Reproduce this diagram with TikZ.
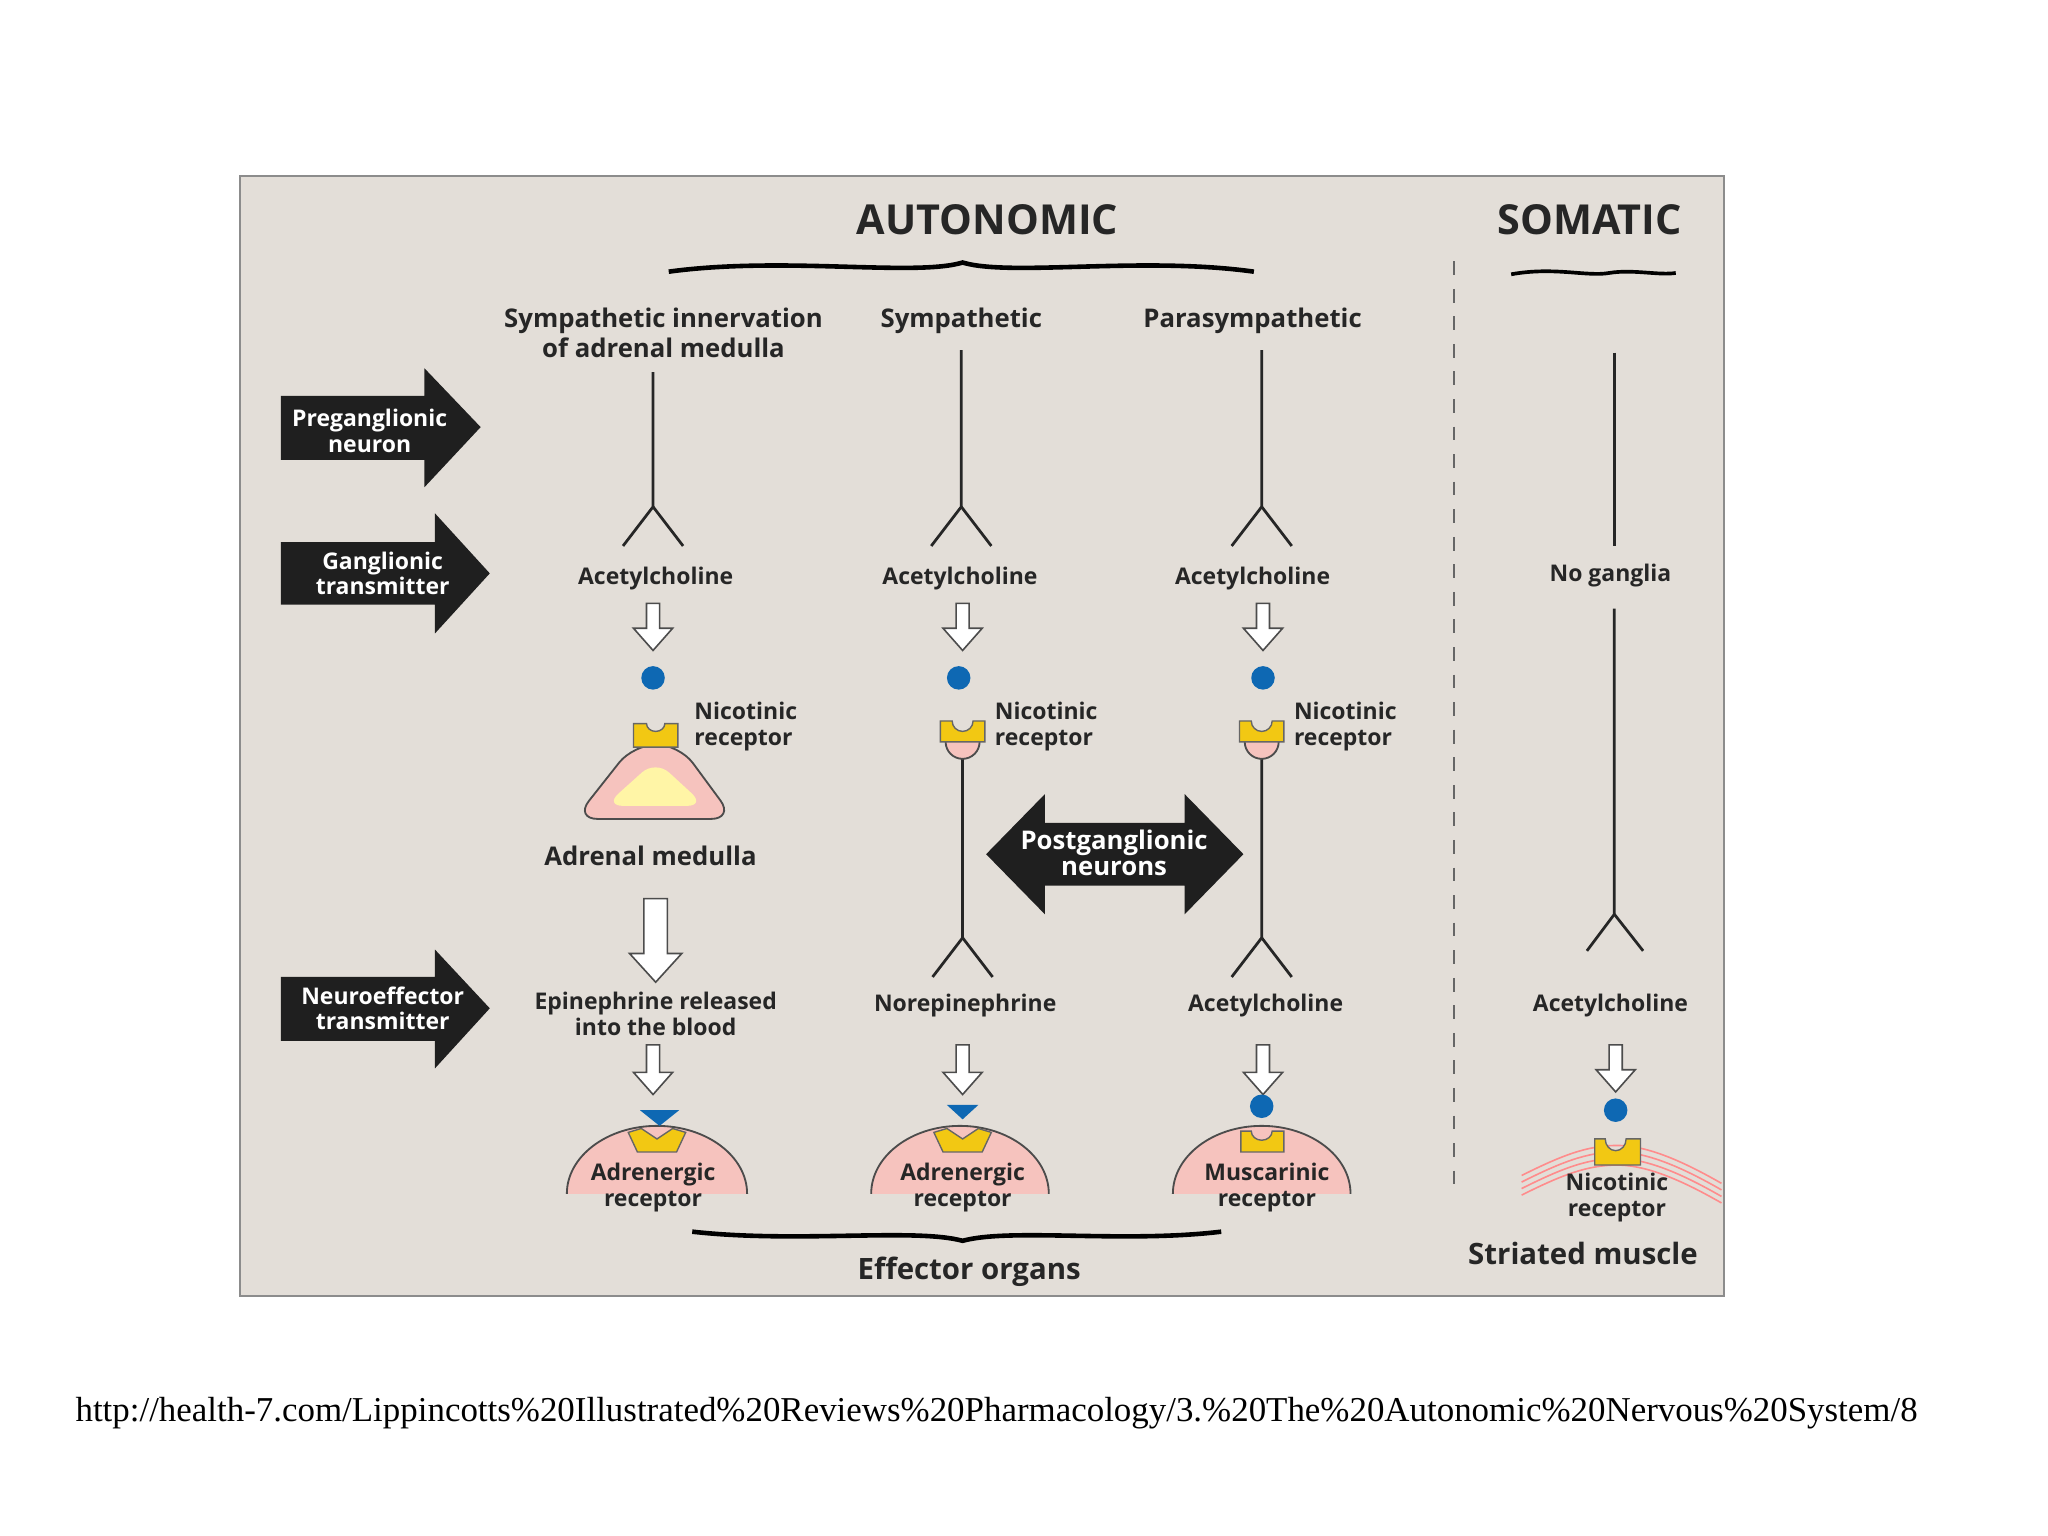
\documentclass[tikz,border=0pt]{standalone}
\usepackage{fontspec}
\setsansfont{Open Sans}
\setmainfont{Liberation Serif}
\begin{document}
\definecolor{bgc}{HTML}{E3DED8}
\definecolor{yel}{HTML}{F2C813}
\definecolor{pnk}{HTML}{F6C3BE}
\definecolor{blu}{HTML}{0E68B3}
\definecolor{lyel}{HTML}{FFF5A6}
\begin{tikzpicture}[x=0.01cm,y=-0.01cm,
  lab/.style={font=\sffamily\bfseries\fontsize{5}{5.6}\selectfont,align=center,inner sep=0pt,text=black!85},
  hdr/.style={font=\sffamily\bfseries\fontsize{5.6}{5.4}\selectfont,align=center,inner sep=0pt,text=black!85},
  ttl/.style={font=\sffamily\bfseries\fontsize{9}{10}\selectfont,inner sep=0pt,text=black!85},
  big/.style={font=\sffamily\bfseries\fontsize{6.4}{7}\selectfont,inner sep=0pt,text=black!85},
  wlab/.style={font=\sffamily\bfseries\fontsize{5}{5.6}\selectfont,align=center,inner sep=0pt,text=white},
  nrv/.style={line width=0.6pt,black!85},
  blk/.style={fill=black!88,draw=none},
  wa/.style={fill=white,draw=black!70,line width=0.35pt},
  yr/.style={fill=yel,draw=black!60,line width=0.3pt},
  pk/.style={fill=pnk,draw=black!70,line width=0.4pt}]
\useasboundingbox (0,0) rectangle (1568,1176);
\fill[white] (0,0) rectangle (1568,1176);
\draw[fill=bgc,draw=black!45,line width=0.5pt] (184,135) rectangle (1320,992);
\draw[black!60,dashed,line width=0.4pt] (1113,200) -- (1113,915);
% titles
\node[ttl] (aut) at (756,168) {AUTONOMIC};
\node[ttl] (som) at (1217,168) {SOMATIC};
\draw[line width=1pt] (512,208) .. controls (600,196) and (700,212) .. (737,201) .. controls (774,212) and (874,196) .. (960,208);
\draw[line width=0.8pt] (1157,210) .. controls (1190,204) and (1215,212) .. (1232,209) .. controls (1250,206) and (1270,211) .. (1283,209);
\node[hdr] (h1) at (508,255) {Sympathetic innervation\\of adrenal medulla};
\node[hdr] (h2) at (736,246) {Sympathetic};
\node[hdr] (h3) at (959,246) {Parasympathetic};
% left black arrows
\path[blk] (215,303) -- (325,303) -- (325,282) -- (368,327) -- (325,373) -- (325,352) -- (215,352) -- cycle;
\node[wlab] (pre) at (283,330) {Preganglionic\\neuron};
\path[blk] (215,415) -- (333,415) -- (333,393) -- (375,439) -- (333,485) -- (333,463) -- (215,463) -- cycle;
\node[wlab] (gan) at (293,439) {Ganglionic\\transmitter};
\path[blk] (215,748) -- (333,748) -- (333,727) -- (375,772) -- (333,818) -- (333,797) -- (215,797) -- cycle;
\node[wlab] (neu) at (293,772) {Neuroeffector\\transmitter};
% preganglionic neurons
\foreach \x/\t in {500/285,736/268,966/268}{
  \draw[nrv] (\x,\t) -- (\x,388) -- ({\x-23},418);
  \draw[nrv] (\x,388) -- ({\x+23},418);
}
\draw[nrv] (1236,270) -- (1236,418);
\draw[nrv] (1236,466) -- (1236,700) -- (1215,728);
\draw[nrv] (1236,700) -- (1258,728);
\node[lab] (ac1) at (502,443) {Acetylcholine};
\node[lab] (ac2) at (735,443) {Acetylcholine};
\node[lab] (ac3) at (959,443) {Acetylcholine};
\node[lab] (nog) at (1233,441) {No ganglia};
% white arrows
\foreach \x/\a/\b in {500/462/498,737/462/498,967/462/498,500/800/838,737/800/838,967/800/838,1237/800/836}{
  \path[wa] ({\x-5},\a) -- ({\x-5},{\b-17}) -- ({\x-15},{\b-17}) -- (\x,\b) -- ({\x+15},{\b-17}) -- ({\x+5},{\b-17}) -- ({\x+5},\a) -- cycle;
}
% blue dots
\foreach \x/\y in {500/519,734/519,967/519,966/847,1237/850}{
  \fill[blu] (\x,\y) circle (9);
}
% col1 adrenal medulla
\path[pk,rounded corners=5] (485,570) -- (520,570) -- (562,627) -- (440,627) -- cycle;
\path[fill=lyel,rounded corners=4] (502,582) -- (540,617) -- (463,617) -- cycle;
\path[yr] (485,572) -- (485,554) -- (495,554) arc[start angle=180,end angle=0,x radius=7,y radius=6] -- (519,554) -- (519,572) -- cycle;
\node[lab,align=left] (nr1) at (571,556) {Nicotinic\\receptor};
\node[hdr] (adm) at (498,655) {Adrenal medulla};
% col2/col3 nicotinic + postganglionic
\foreach \x in {737,966}{
  \draw[nrv] (\x,580) -- (\x,718) -- ({\x-23},748);
  \draw[nrv] (\x,718) -- ({\x+23},748);
  \path[pk] ({\x-13},568) arc[start angle=180,end angle=0,radius=13];
  \path[yr] ({\x-17},568) -- ({\x-17},552) -- ({\x-8},552) arc[start angle=180,end angle=0,radius=8] -- ({\x+17},552) -- ({\x+17},568) -- cycle;
}
\node[lab,align=left] (nr2) at (801,556) {Nicotinic\\receptor};
\node[lab,align=left] (nr3) at (1030,556) {Nicotinic\\receptor};
\path[blk] (755,654) -- (800,608) -- (800,630) -- (907,630) -- (907,608) -- (952,654) -- (907,700) -- (907,678) -- (800,678) -- (800,700) -- cycle;
\node[wlab,font=\sffamily\bfseries\fontsize{5.6}{5.8}\selectfont] (post) at (853,653) {Postganglionic\\neurons};
% big white arrow col1
\path[wa] (493,688) -- (493,730) -- (482,730) -- (502,752) -- (522,730) -- (511,730) -- (511,688) -- cycle;
\node[lab] (epi) at (502,776) {Epinephrine released\\into the blood};
\node[lab] (nor) at (739,770) {Norepinephrine};
\node[lab] (ac4) at (969,770) {Acetylcholine};
\node[lab] (ac5) at (1233,770) {Acetylcholine};
% effector domes
\foreach \x/\r in {503/69,735/68,966/68}{
  \fill[pnk] ({\x-\r},914) arc[start angle=180,end angle=360,x radius=\r,y radius=52];
  \draw[black!70,line width=0.4pt] ({\x-\r},914) arc[start angle=180,end angle=360,x radius=\r,y radius=52];
}
\foreach \x in {503,737}{
  \path[yr] ({\x-22},867) -- ({\x-12},864) -- (\x,872) -- ({\x+12},864) -- ({\x+22},867) -- ({\x+15},882) -- ({\x-15},882) -- cycle;
}
\path[fill=blu] (490,850) -- (520,850) -- (505,862) -- cycle;
\path[fill=blu] (725,846) -- (749,846) -- (737,857) -- cycle;
\path[yr] (950,882) -- (950,866) -- (958,866) arc[start angle=180,end angle=0,x radius=8,y radius=7] -- (983,866) -- (983,882) -- cycle;
\node[lab] (ad1) at (500,909) {Adrenergic\\receptor};
\node[lab] (ad2) at (737,909) {Adrenergic\\receptor};
\node[lab] (mus) at (970,909) {Muscarinic\\receptor};
% somatic muscle
\foreach \d in {0,5,10,15}{
  \draw[red!45,line width=0.35pt] (1165,{900+\d}) .. controls (1195,{885+\d}) and (1215,{877+\d}) .. (1238,{877+\d}) .. controls (1262,{877+\d}) and (1290,{890+\d}) .. (1318,{906+\d});
}
\path[yr] (1221,892) -- (1221,872) -- (1229,872) arc[start angle=180,end angle=0,x radius=8,y radius=9] -- (1256,872) -- (1256,892) -- cycle;
\node[lab] (nr4) at (1238,917) {Nicotinic\\receptor};
% bottom brace
\draw[line width=1pt] (530,943) .. controls (610,952) and (700,940) .. (737,950) .. controls (774,940) and (860,952) .. (935,943);
\node[big] (eff) at (742,974) {Effector organs};
\node[big] (str) at (1212,960) {Striated muscle};
\node[font=\rmfamily\fontsize{7.6}{8}\selectfont,inner sep=0pt] (url) at (763,1082) {http://health-7.com/Lippincotts\%20Illustrated\%20Reviews\%20Pharmacology/3.\%20The\%20Autonomic\%20Nervous\%20System/8};
\end{tikzpicture}
\end{document}
